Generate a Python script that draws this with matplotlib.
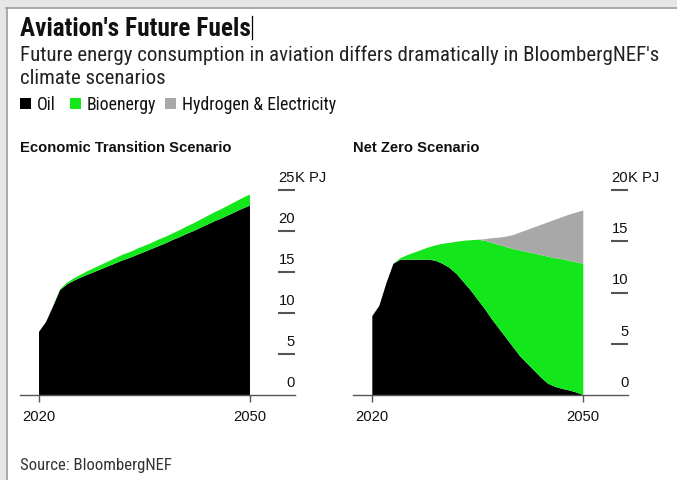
import numpy as np
import matplotlib
matplotlib.use('Agg')
import matplotlib.pyplot as plt
from matplotlib import font_manager
from matplotlib.patches import Rectangle
from matplotlib.lines import Line2D

plt.rcParams['font.family'] = ['Liberation Sans', 'DejaVu Sans']
installed = {f.name for f in font_manager.fontManager.ttflist}
NARROW = next((n for n in ['Roboto Condensed', 'Archivo Narrow', 'PT Sans Narrow',
                           'Liberation Sans Narrow', 'Roboto', 'Liberation Sans']
               if n in installed), 'DejaVu Sans')

years = list(range(2020, 2051))

# Economic Transition Scenario, K PJ
ets_oil = [7.7, 8.9, 10.8, 12.8, 13.5, 13.95, 14.35, 14.7, 15.05, 15.4,
           15.75, 16.1, 16.45, 16.75, 17.1, 17.45, 17.8, 18.15, 18.5, 18.9,
           19.25, 19.65, 20.0, 20.4, 20.8, 21.2, 21.55, 21.95, 22.35, 22.75,
           23.1]
ets_bio = [0, 0, 0.05, 0.1, 0.2, 0.3, 0.35, 0.45, 0.5, 0.55,
           0.6, 0.65, 0.7, 0.7, 0.75, 0.75, 0.75, 0.8, 0.8, 0.8,
           0.85, 0.9, 0.95, 1.0, 1.05, 1.1, 1.15, 1.2, 1.25, 1.3,
           1.35]
ets_h2 = [0] * 31

# Net Zero Scenario, K PJ
nzs_oil = [7.7, 8.7, 10.9, 12.8, 13.2, 13.2, 13.2, 13.2, 13.2, 13.1,
           12.8, 12.4, 11.8, 11.0, 10.2, 9.3, 8.4, 7.4, 6.5, 5.6,
           4.7, 3.8, 3.1, 2.4, 1.7, 1.1, 0.8, 0.6, 0.45, 0.25,
           0.0]
nzs_bio = [0, 0, 0, 0, 0.15, 0.45, 0.7, 0.95, 1.2, 1.5,
           1.95, 2.45, 3.15, 4.05, 4.9, 5.85, 6.65, 7.45, 8.15, 8.85,
           9.55, 10.3, 10.85, 11.4, 11.95, 12.4, 12.55, 12.65, 12.65, 12.7,
           12.8]
nzs_h2 = [0] * 16 + [0.15, 0.45, 0.7, 1.0, 1.35, 1.75, 2.15, 2.55, 2.95,
                     3.35, 3.75, 4.1, 4.5, 4.85, 5.2]

ets_ticks = [0, 5, 10, 15, 20, 25]
nzs_ticks = [0, 5, 10, 15, 20]

colors = ['#000000', '#14e61c', '#a8a8a8']
labels = ['Oil', 'Bioenergy', 'Hydrogen & Electricity']

W, H = 677, 480
fig = plt.figure(figsize=(W / 100, H / 100), dpi=100)
fig.patch.set_facecolor('white')
renderer = fig.canvas.get_renderer()


def px(x, y):
    return x / W, 1 - y / H


def fit(t, width):
    # scale the font so the text spans the width seen in the reference
    w = t.get_window_extent(renderer).width
    t.set_fontsize(t.get_fontsize() * width / w)
    return t.get_fontsize()


# screenshot frame (gray strips top and left)
fig.patches.append(Rectangle((0, 1 - 7 / H), 1, 7 / H, transform=fig.transFigure,
                             facecolor='#e6e6e6', edgecolor='none'))
fig.patches.append(Rectangle((0, 0), 6 / W, 1, transform=fig.transFigure,
                             facecolor='#e6e6e6', edgecolor='none'))
fig.lines.append(Line2D([6 / W, 1], [1 - 7.5 / H, 1 - 7.5 / H], transform=fig.transFigure,
                        color='#9a9a9a', lw=1.2))
fig.lines.append(Line2D([6.5 / W, 6.5 / W], [0, 1 - 7.5 / H], transform=fig.transFigure,
                        color='#9a9a9a', lw=1.2))

t = fig.text(*px(20, 36), "Aviation's Future Fuels", family=NARROW, fontweight='bold',
             fontsize=18, va='baseline', ha='left', color='#111111')
fit(t, 230)
fig.lines.append(Line2D([252 / W, 252 / W], [1 - 16 / H, 1 - 39 / H], transform=fig.transFigure,
                        color='#000000', lw=0.9))

t = fig.text(*px(20, 61), "Future energy consumption in aviation differs dramatically in BloombergNEF's",
             family=NARROW, fontsize=14, va='baseline', ha='left', color='#222222')
sub_fs = fit(t, 643)
fig.text(*px(20, 84), "climate scenarios", family=NARROW, fontsize=sub_fs,
         va='baseline', ha='left', color='#222222')

# legend
leg_x = [20, 70, 165]
leg_texts = []
for lx, c, lab in zip(leg_x, colors, labels):
    fig.patches.append(Rectangle(px(lx, 109), 11 / W, 11 / H, transform=fig.transFigure,
                                 facecolor=c, edgecolor='none'))
    leg_texts.append(fig.text(*px(lx + 17, 109.5), lab, family=NARROW, fontsize=12,
                              va='baseline', ha='left', color='#111111'))
leg_fs = fit(leg_texts[-1], 154)
for t in leg_texts:
    t.set_fontsize(leg_fs)

t = fig.text(*px(20, 470), 'Source: BloombergNEF', family=NARROW, fontsize=12,
             va='baseline', ha='left', color='#333333')
fit(t, 152)

panels = [
    ('Economic Transition Scenario', 20, 8.2, ets_oil, ets_bio, ets_h2, ets_ticks),
    ('Net Zero Scenario', 353.3, 10.25, nzs_oil, nzs_bio, nzs_h2, nzs_ticks),
]

for title, left, ppu, oil, bio, h2, ticks in panels:
    top_px, base_px = 160, 395
    ax = fig.add_axes([left / W, (H - base_px) / H, 275 / W, (base_px - top_px) / H])
    ax.set_facecolor('none')
    ax.stackplot(years, oil, bio, h2, colors=colors, linewidth=0)
    x0, x1 = 2020 - 19 / 7.03, 2050 + 45 / 7.03
    ax.set_xlim(x0, x1)
    ax.set_ylim(0, (base_px - top_px) / ppu)
    for s in ['top', 'left', 'right']:
        ax.spines[s].set_visible(False)
    ax.spines['bottom'].set_color('#555555')
    ax.spines['bottom'].set_linewidth(1.0)
    ax.set_yticks([])
    ax.set_xticks([2020, 2050])
    ax.set_xticklabels(['2020', '2050'])
    ax.tick_params(axis='x', length=5, width=1.0, color='#555555', pad=5.5,
                   labelsize=10.6, labelcolor='#111111')
    tick_x0 = 2050 + 28 / 7.03
    ax.hlines([t for t in ticks if t > 0], tick_x0, x1, colors='#555555', lw=1.5)
    for t in ticks:
        ax.annotate(str(t), (x1, t), xytext=(0, 8), textcoords='offset pixels',
                    ha='right', va='baseline', fontsize=10.6, color='#111111')
    ax.annotate('K PJ', (x1, ticks[-1]), xytext=(0, 8), textcoords='offset pixels',
                ha='left', va='baseline', fontsize=10.6, color='#111111')
    fig.text(*px(left, 152), title, fontweight='bold', fontsize=10.6,
             va='baseline', ha='left', color='#111111')

fig.savefig('out.png', dpi=100)
